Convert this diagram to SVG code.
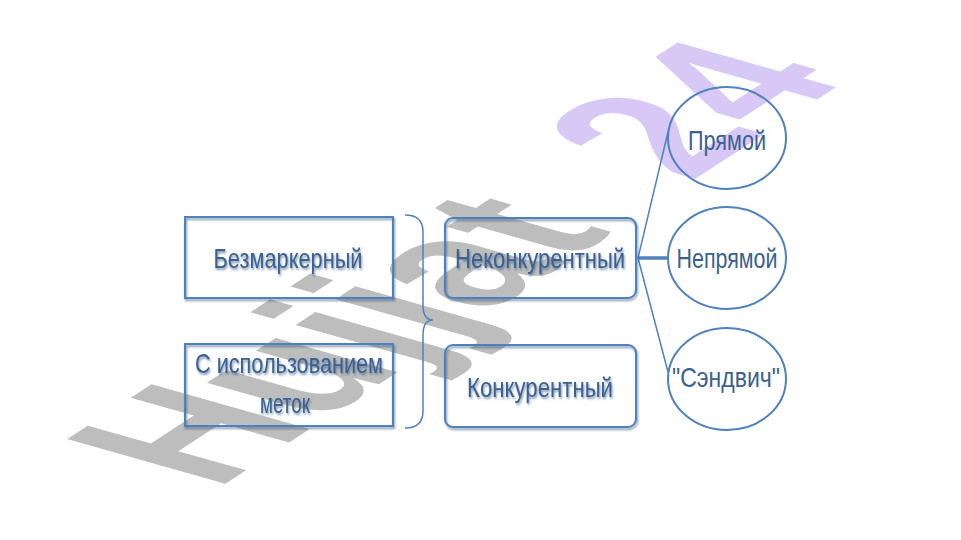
<svg xmlns="http://www.w3.org/2000/svg" width="961" height="540" viewBox="0 0 961 540">
<defs>
<style>
.box{fill:none;stroke:#4f81bd;stroke-width:2}
.ell{fill:none;stroke:#4f81bd;stroke-width:2}
.lbl{font-family:"Liberation Sans Narrow","Liberation Sans",Arial,sans-serif;font-size:28px;fill:#3a6191;text-anchor:middle}
.con{stroke:#4f81bd;fill:none;stroke-width:1.5}
.wm{font-family:"Liberation Sans",Arial,sans-serif;font-weight:bold;font-size:100px}
</style>
<filter id="sh" x="-10%" y="-10%" width="120%" height="130%">
<feDropShadow dx="1" dy="2" stdDeviation="0.8" flood-color="#2d4f7a" flood-opacity="0.6"/>
</filter>
</defs>
<rect width="961" height="540" fill="#ffffff"/>
<g id="watermark">
<text class="wm" transform="matrix(1.435,-0.932,2.299,0.650,215.8,490)"><tspan fill="#bdbdbd">Hujjat</tspan><tspan fill="#d8c8f6" dx="25"> 24</tspan></text>
</g>
<g id="connectors">
<path class="con" d="M405,215 Q423,215 423,232 L423,305 Q423,320 433,320 Q423,320 423,335 L423,411 Q423,428 405,428"/>
<line class="con" x1="638" y1="258" x2="668" y2="132"/>
<line class="con" x1="638" y1="258" x2="667" y2="258" style="stroke-width:3.5"/>
<line class="con" x1="638" y1="258" x2="668" y2="372"/>
</g>
<g id="n-bezmarkerny" filter="url(#sh)">
<rect class="box" x="185" y="217" width="208" height="81"/>
<text class="lbl" x="288" y="268" textLength="149" lengthAdjust="spacingAndGlyphs">Безмаркерный</text>
</g>
<g id="n-metki" filter="url(#sh)">
<rect class="box" x="185" y="344" width="208" height="82"/>
<text class="lbl" x="289" y="373" textLength="188" lengthAdjust="spacingAndGlyphs">С использованием</text>
<text class="lbl" x="285" y="413" textLength="50" lengthAdjust="spacingAndGlyphs">меток</text>
</g>
<g id="n-nekonkur" filter="url(#sh)">
<rect class="box" x="445" y="218" width="191" height="80" rx="8"/>
<text class="lbl" x="540" y="268" textLength="170" lengthAdjust="spacingAndGlyphs">Неконкурентный</text>
</g>
<g id="n-konkur" filter="url(#sh)">
<rect class="box" x="445" y="345" width="191" height="82" rx="8"/>
<text class="lbl" x="540" y="397" textLength="146" lengthAdjust="spacingAndGlyphs">Конкурентный</text>
</g>
<g id="n-pryamoy">
<ellipse class="ell" cx="727" cy="138" rx="59" ry="51"/>
<text class="lbl" x="727" y="150" textLength="78" lengthAdjust="spacingAndGlyphs">Прямой</text>
</g>
<g id="n-nepryamoy">
<ellipse class="ell" cx="727" cy="258" rx="59" ry="51"/>
<text class="lbl" x="727" y="268" textLength="101" lengthAdjust="spacingAndGlyphs">Непрямой</text>
</g>
<g id="n-sendvich">
<ellipse class="ell" cx="727" cy="379" rx="59" ry="51"/>
<text class="lbl" x="726" y="387" textLength="108" lengthAdjust="spacingAndGlyphs">"Сэндвич"</text>
</g>
</svg>
